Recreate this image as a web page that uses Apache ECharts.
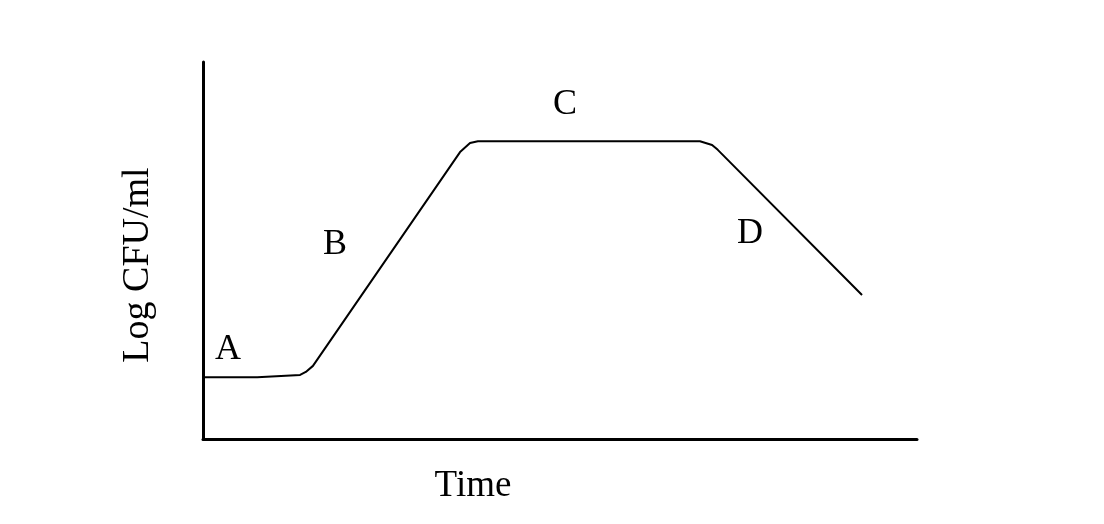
<!DOCTYPE html>
<html>
<head>
<meta charset="utf-8">
<script src="https://cdn.jsdelivr.net/npm/echarts@6/dist/echarts.min.js"></script>
<style>html,body{margin:0;padding:0;background:#fff}#c{width:1104px;height:524px}</style>
</head>
<body>
<div id="c"></div>
<script>
// Growth curve (arbitrary units, x: time 0-100, y: log CFU/ml 0-100)
const curveX = [0, 7.6, 13.6, 14.4, 15.4, 36.0, 37.4, 38.5, 69.6, 71.3, 72.1, 92.3];
const curveY = [16.4, 16.4, 17.0, 17.8, 19.4, 76.1, 78.5, 79.0, 79.0, 78.0, 76.7, 38.2];
// Phase labels
const phaseNames = ['A', 'B', 'C', 'D'];
const phaseX = [3.5, 18.5, 50.7, 76.6];
const phaseY = [23.6, 51.5, 88.6, 54.6];
const xTitle = 'Time';
const yTitle = 'Log CFU/ml';

const font = 'Liberation Serif';
const chart = echarts.init(document.getElementById('c'));
chart.setOption({
  animation: false,
  backgroundColor: '#fff',
  grid: { left: 203, top: 62, right: 187, bottom: 85 },
  xAxis: {
    type: 'value', min: 0, max: 100,
    name: xTitle, nameLocation: 'middle', nameGap: 29,
    nameTextStyle: { fontFamily: font, fontSize: 37, color: '#000', padding: [0, 174, 0, 0] },
    axisLine: { show: true, lineStyle: { color: '#000', width: 3 } },
    axisTick: { show: false }, axisLabel: { show: false }, splitLine: { show: false }
  },
  yAxis: {
    type: 'value', min: 0, max: 100,
    name: yTitle, nameLocation: 'middle', nameGap: 46, nameRotate: 90,
    nameTextStyle: { fontFamily: font, fontSize: 38, color: '#000', padding: [0, 29, 0, 0] },
    axisLine: { show: true, lineStyle: { color: '#000', width: 3 } },
    axisTick: { show: false }, axisLabel: { show: false }, splitLine: { show: false }
  },
  series: [
    {
      type: 'line',
      data: curveX.map((x, i) => [x, curveY[i]]),
      showSymbol: false, symbol: 'none',
      lineStyle: { color: '#000', width: 2 }
    },
    {
      type: 'scatter',
      data: phaseNames.map((n, i) => ({ name: n, value: [phaseX[i], phaseY[i]] })),
      symbolSize: 0,
      itemStyle: { opacity: 1, color: '#000' },
      label: {
        show: true, position: 'inside', formatter: p => p.name,
        fontFamily: font, fontSize: 36, color: '#000'
      }
    }
  ]
});
</script>
</body>
</html>
